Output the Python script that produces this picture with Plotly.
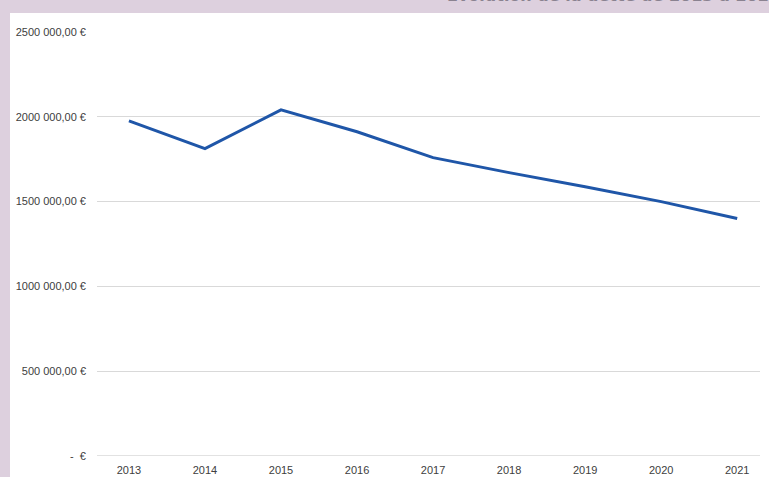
import plotly.graph_objects as go

years = ["2013", "2014", "2015", "2016", "2017", "2018", "2019", "2020", "2021"]
debt = [1976000, 1812000, 2041000, 1912000, 1759000, 1671000, 1588000, 1500000, 1400000]
tick_vals = [0, 500000, 1000000, 1500000, 2000000, 2500000]
tick_text = ["-  €", "500 000,00 €", "1000 000,00 €", "1500 000,00 €", "2000 000,00 €", "2500 000,00 €"]
title_text = "Evolution de la dette de 2013 à 2021"

fig = go.Figure()
fig.add_trace(go.Scatter(
    x=list(range(len(years))), y=debt, mode="lines",
    line=dict(color="#1f56a8", width=3), hoverinfo="skip", showlegend=False,
))

font = "Liberation Sans Narrow, Arial Narrow, Liberation Sans, sans-serif"
W, H = 769, 477
ml, mr, mt, mb = 97, 9, 32, 21
ph = H - mt - mb
pw = W - ml - mr

fig.update_layout(
    width=W, height=H,
    margin=dict(l=ml, r=mr, t=mt, b=mb, autoexpand=False),
    paper_bgcolor="#ddd0de",
    plot_bgcolor="white",
    font=dict(family=font, size=11, color="#404040"),
    xaxis=dict(
        range=[-0.42, 8.30], tickvals=list(range(len(years))), ticktext=years,
        showgrid=False, zeroline=False, showline=False, ticks="",
        ticklabelstandoff=6, automargin=False,
        tickfont=dict(size=11, color="#404040"),
    ),
    yaxis=dict(
        range=[0, 2500000], tickvals=tick_vals, ticktext=tick_text,
        showgrid=True, gridcolor="#d9d9d9", gridwidth=1, zeroline=False,
        showline=False, ticks="", ticklabelstandoff=10, automargin=False,
        tickfont=dict(size=11, color="#404040"),
    ),
    shapes=[
        dict(type="rect", xref="paper", yref="paper",
             x0=-(ml - 10) / pw, x1=1 + (mr + 5) / pw,
             y0=-(mb + 5) / ph, y1=1 + (mt - 13) / ph,
             fillcolor="white", line=dict(width=0), layer="below"),
        dict(type="line", xref="paper", yref="y", x0=0, x1=1, y0=0, y1=0,
             line=dict(color="#d9d9d9", width=1.5), layer="below"),
    ],
    annotations=[
        dict(text="<b>" + title_text + "</b>", xref="paper", yref="paper",
             x=(445 - ml) / pw, xanchor="left",
             y=1 + (mt - 7) / ph, yanchor="bottom",
             showarrow=False, font=dict(size=16, color="#8a8290", family="DejaVu Sans")),
    ],
)

fig.write_html("out.html", config={"displayModeBar": False},
               post_script="document.body.style.margin='0';document.body.style.overflow='hidden';")
